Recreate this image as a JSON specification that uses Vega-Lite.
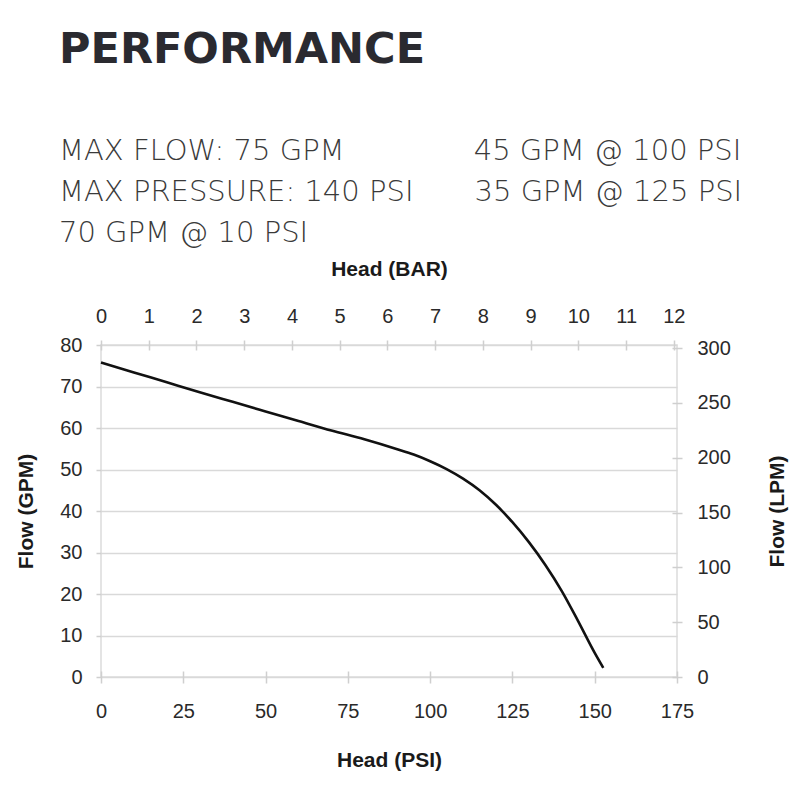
{
  "$schema": "https://vega.github.io/schema/vega-lite/v6.json",
  "autosize": "none",
  "padding": {"left": 101, "top": 345, "right": 123, "bottom": 123},
  "width": 576,
  "height": 332,
  "background": "white",
  "title": {
    "text": "PERFORMANCE",
    "subtitle": [
      "MAX FLOW: 75 GPM\u00a0\u00a0\u00a0\u00a0\u00a0\u00a0\u00a0\u00a0\u00a0\u00a0\u00a0\u00a0\u00a0\u00a045 GPM @ 100 PSI",
      "MAX PRESSURE: 140 PSI\u00a0\u00a0\u00a0\u00a0\u00a0\u00a0\u200935 GPM @ 125 PSI",
      "70 GPM @ 10 PSI"
    ],
    "anchor": "start",
    "frame": "group",
    "dx": -42,
    "offset": 10,
    "font": "DejaVu Sans",
    "fontSize": 43,
    "fontWeight": "bold",
    "color": "#2a2a30",
    "subtitleFont": "DejaVu Sans",
    "subtitleFontSize": 29,
    "subtitleFontWeight": 200,
    "subtitleColor": "#3a3a3a",
    "subtitleLineHeight": 41,
    "subtitlePadding": 65
  },
  "config": {
    "view": {"stroke": "#dcdcdc", "strokeWidth": 1.5},
    "axis": {
      "labelFont": "Liberation Sans",
      "labelFontSize": 20,
      "labelColor": "#2a2a2a",
      "labelFlush": false,
      "titleFont": "Liberation Sans",
      "titleFontSize": 21,
      "titleFontWeight": "bold",
      "titleColor": "#1a1a1a",
      "tickColor": "#cfcfcf",
      "tickWidth": 1.5,
      "gridColor": "#d9d9d9",
      "gridWidth": 1.5,
      "domain": false
    }
  },
  "layer": [
    {
      "data": {"values": [
        {"psi": 0, "gpm": 75.8},
        {"psi": 10, "gpm": 73.4},
        {"psi": 20, "gpm": 71.0},
        {"psi": 30, "gpm": 68.6},
        {"psi": 40, "gpm": 66.3},
        {"psi": 50, "gpm": 64.0},
        {"psi": 60, "gpm": 61.7},
        {"psi": 70, "gpm": 59.4},
        {"psi": 80, "gpm": 57.3},
        {"psi": 90, "gpm": 54.9},
        {"psi": 95, "gpm": 53.6},
        {"psi": 100, "gpm": 52.0},
        {"psi": 105, "gpm": 50.1},
        {"psi": 110, "gpm": 47.8},
        {"psi": 115, "gpm": 45.0},
        {"psi": 120, "gpm": 41.5},
        {"psi": 125, "gpm": 37.3},
        {"psi": 130, "gpm": 32.5},
        {"psi": 135, "gpm": 27.0},
        {"psi": 140, "gpm": 20.7},
        {"psi": 145, "gpm": 13.4},
        {"psi": 150, "gpm": 5.8},
        {"psi": 152.6, "gpm": 2.2}
      ]},
      "mark": {"type": "line", "color": "#111111", "strokeWidth": 2.6, "interpolate": "monotone"},
      "encoding": {
        "x": {
          "field": "psi", "type": "quantitative",
          "scale": {"domain": [0, 175], "nice": false, "zero": false},
          "axis": {
            "orient": "bottom", "title": "Head (PSI)",
            "values": [0, 25, 50, 75, 100, 125, 150, 175],
            "grid": false, "offset": -6, "tickSize": 12,
            "labelPadding": 18, "titlePadding": 28
          }
        },
        "y": {
          "field": "gpm", "type": "quantitative",
          "scale": {"domain": [0, 80], "nice": false},
          "axis": {
            "orient": "left", "title": "Flow (GPM)",
            "values": [0, 10, 20, 30, 40, 50, 60, 70, 80],
            "grid": true, "tickSize": 5, "labelPadding": 14, "titlePadding": 23
          }
        }
      }
    },
    {
      "data": {"values": [
        {"bar": 0}, {"bar": 1}, {"bar": 2}, {"bar": 3}, {"bar": 4}, {"bar": 5}, {"bar": 6},
        {"bar": 7}, {"bar": 8}, {"bar": 9}, {"bar": 10}, {"bar": 11}, {"bar": 12}
      ]},
      "mark": {"type": "point", "opacity": 0},
      "encoding": {
        "x": {
          "field": "bar", "type": "quantitative",
          "scale": {"domain": [0, 12.066], "nice": false, "zero": false},
          "axis": {
            "orient": "top", "title": "Head (BAR)",
            "values": [0, 1, 2, 3, 4, 5, 6, 7, 8, 9, 10, 11, 12],
            "grid": false, "offset": -5, "tickSize": 10,
            "labelPadding": 14, "titlePadding": 27
          }
        }
      }
    },
    {
      "data": {"values": [
        {"lpm": 0}, {"lpm": 50}, {"lpm": 100}, {"lpm": 150}, {"lpm": 200}, {"lpm": 250}, {"lpm": 300}
      ]},
      "mark": {"type": "point", "opacity": 0},
      "encoding": {
        "y": {
          "field": "lpm", "type": "quantitative",
          "scale": {"domain": [0, 302.8], "nice": false},
          "axis": {
            "orient": "right", "title": "Flow (LPM)",
            "values": [0, 50, 100, 150, 200, 250, 300],
            "grid": false, "offset": -5, "tickSize": 10,
            "labelPadding": 15, "titlePadding": 36,
            "titleAngle": 270, "titleBaseline": "top"
          }
        }
      }
    }
  ],
  "resolve": {
    "scale": {"x": "independent", "y": "independent"},
    "axis": {"x": "independent", "y": "independent"}
  }
}
